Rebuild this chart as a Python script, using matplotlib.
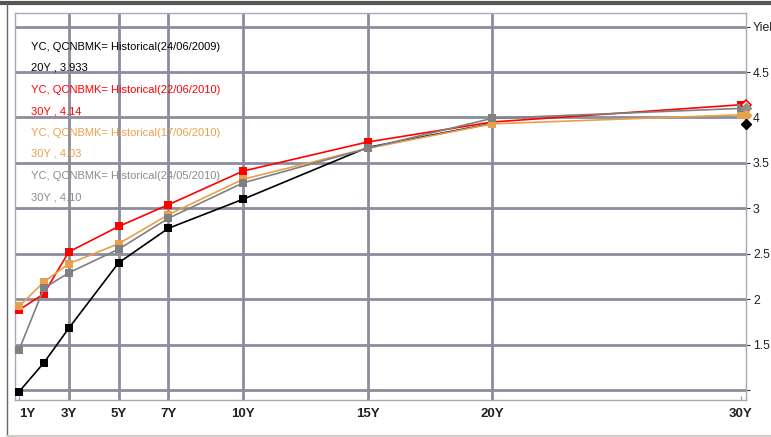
import matplotlib
matplotlib.use("Agg")
import matplotlib.pyplot as plt
from matplotlib.lines import Line2D

tenors = [1, 2, 3, 5, 7, 10, 15, 20, 30]
tick_pos = [1, 3, 5, 7, 10, 15, 20, 30]
tick_labels = ["1Y", "3Y", "5Y", "7Y", "10Y", "15Y", "20Y", "30Y"]

tenors_2009 = [1, 2, 3, 5, 7, 10, 15, 20]
yc_20090624 = [0.98, 1.30, 1.68, 2.40, 2.78, 3.10, 3.67, 3.933]
yc_20100622 = [1.88, 2.06, 2.52, 2.80, 3.04, 3.41, 3.73, 3.95, 4.14]
yc_20100617 = [1.92, 2.19, 2.39, 2.61, 2.93, 3.32, 3.66, 3.93, 4.03]
yc_20100524 = [1.44, 2.12, 2.29, 2.55, 2.89, 3.28, 3.66, 3.99, 4.10]

legend_lines = [
    ("YC, QCNBMK= Historical(24/06/2009)", "20Y , 3.933", "#000000"),
    ("YC, QCNBMK= Historical(22/06/2010)", "30Y , 4.14", "#ff0000"),
    ("YC, QCNBMK= Historical(17/06/2010)", "30Y , 4.03", "#e8a04c"),
    ("YC, QCNBMK= Historical(24/05/2010)", "30Y , 4.10", "#8c8c8c"),
]

W, H = 771, 437
fig = plt.figure(figsize=(W / 100, H / 100), dpi=100)
fam = ["Liberation Sans", "DejaVu Sans"]

left, right, top, bottom = 15, 746, 13, 400
ax = fig.add_axes([left / W, 1 - bottom / H, (right - left) / W, (bottom - top) / H])
ax.set_xlim(0.84, 30.2)
ax.set_ylim(0.89, 5.15)

grid_c = "#8c8c9c"
for v in [1, 1.5, 2, 2.5, 3, 3.5, 4, 4.5, 5]:
    ax.axhline(v, color=grid_c, lw=2.0, zorder=1)
for t in [3, 5, 7, 10, 15, 20]:
    ax.axvline(t, color=grid_c, lw=2.0, zorder=1)

series = [
    (tenors_2009, yc_20090624, "#000000"),
    (tenors, yc_20100622, "#ff0000"),
    (tenors, yc_20100617, "#e8a04c"),
    (tenors, yc_20100524, "#808080"),
]
for i, (xs, vals, col) in enumerate(series):
    ax.plot(xs, vals, color=col, lw=1.2, marker="s", markersize=5.5,
            markeredgewidth=0, zorder=3 + i)

# end-of-line diamonds on the right axis
ax.plot([30.2], [yc_20100622[-1]], marker="D", markersize=5, mfc="white",
        mec="#ff0000", mew=1.2, clip_on=False, zorder=10)
ax.plot([30.2], [yc_20100524[-1]], marker="D", markersize=5, color="#909090",
        clip_on=False, zorder=11)
ax.plot([30.2], [yc_20100617[-1]], marker="D", markersize=5, color="#e8a04c",
        clip_on=False, zorder=12)
ax.plot([30.2], [yc_20090624[-1]], marker="D", markersize=5, color="#000000",
        clip_on=False, zorder=13)

for s in ax.spines.values():
    s.set_color("#a8a8b8")
    s.set_linewidth(1.0)

ax.yaxis.tick_right()
ax.set_yticks([1, 1.5, 2, 2.5, 3, 3.5, 4, 4.5, 5])
ax.set_yticklabels(["", "1.5", "2", "2.5", "3", "3.5", "4", "4.5", "Yield"],
                   family=fam, fontsize=8.8)
ax.tick_params(axis="y", direction="out", length=3, pad=2, colors="#333333",
               labelcolor="#222222")
ax.set_xticks(tick_pos)
ax.set_xticklabels(tick_labels, family=fam, fontsize=9.5, fontweight="bold")
ax.tick_params(axis="x", direction="in", length=3, pad=6, colors="#8c8c9c",
               labelcolor="#222222")
ax.get_xticklabels()[0].set_ha("left")

y0 = 47
for i, (l1, l2, col) in enumerate(legend_lines):
    y = y0 + i * 43
    fig.text(31 / W, 1 - y / H, l1, color=col, family=fam, fontsize=8,
             va="center", ha="left")
    fig.text(31 / W, 1 - (y + 21) / H, l2, color=col, family=fam, fontsize=8,
             va="center", ha="left")

# outer frame
fig.add_artist(Line2D([0, 1], [1 - 3 / H, 1 - 3 / H], color="#555555", lw=3,
                      transform=fig.transFigure))
fig.add_artist(Line2D([7 / W, 7 / W], [0, 1 - 3 / H], color="#666666", lw=1,
                      transform=fig.transFigure))
fig.add_artist(Line2D([7 / W, 1], [1.5 / H, 1.5 / H], color="#cfcfc8", lw=1.5,
                      transform=fig.transFigure))

fig.savefig("out.png", dpi=100)
